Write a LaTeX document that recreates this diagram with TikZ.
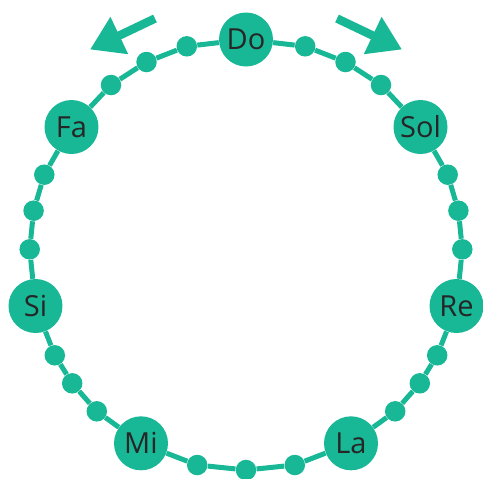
\documentclass[tikz,border=0pt]{standalone}
\usepackage{fontspec}
\setmainfont{Open Sans}
\usepackage{tikz}
\usetikzlibrary{arrows.meta}
\definecolor{ringteal}{RGB}{24,183,150}
\definecolor{notegray}{RGB}{38,38,38}
\tikzset{
  notenode/.style={
    circle,fill=ringteal,minimum size=1.08cm,inner sep=0pt,
    text=notegray,font=\fontsize{16.5}{18}\selectfont
  },
  beadnode/.style={circle,fill=ringteal,minimum size=0.41cm,inner sep=0pt},
  ringline/.style={draw=ringteal,line width=0.1cm},
  turnarrow/.style={draw=ringteal,line width=0.17cm,
    -{Triangle[length=0.65cm,width=0.78cm]}}
}

\begin{document}
\begin{tikzpicture}[x=0.02cm,y=-0.02cm]
  \useasboundingbox (0,0) rectangle (483,478);
  % the seven notes
  \foreach \n/\x/\y/\t in {do/246/39.5/Do, sol/420.5/127/Sol, re/456.5/306/Re,
      la/351/443.3/La, mi/141/443.3/Mi, si/35.5/306/Si, fa/71.5/127/Fa}
    \node[notenode] (\n) at (\x,\y) {\t};
  % small beads between the notes
  \foreach \n/\x/\y in {d1/305.2/46.3, d2/345.5/62, d3/381/85,
      d4/447.7/174.7, d5/458.4/210.7, d6/462.3/249.3,
      d7/437.2/355.3, d8/419.8/383.3, d9/395.2/411.3,
      d10/294.8/465, d11/246/470, d12/197.2/465,
      d13/96.8/411.3, d14/72.2/383.3, d15/54.8/355.3,
      d16/29.7/249.3, d17/33.6/210.7, d18/44.3/174.7,
      d19/111/85, d20/146.5/62, d21/186.8/46.3}
    \node[beadnode] (\n) at (\x,\y) {};
  \draw[ringline] (do) -- (d1) -- (d2) -- (d3) -- (sol) -- (d4) -- (d5) -- (d6)
    -- (re) -- (d7) -- (d8) -- (d9) -- (la) -- (d10) -- (d11) -- (d12)
    -- (mi) -- (d13) -- (d14) -- (d15) -- (si) -- (d16) -- (d17) -- (d18)
    -- (fa) -- (d19) -- (d20) -- (d21) -- (do);
  % direction arrows
  \coordinate (leftfrom) at (155,18.5);
  \coordinate (leftto) at (90,49.5);
  \coordinate (rightfrom) at (337,18.5);
  \coordinate (rightto) at (402,49.5);
  \draw[turnarrow] (leftfrom) -- (leftto);
  \draw[turnarrow] (rightfrom) -- (rightto);
\end{tikzpicture}
\end{document}
